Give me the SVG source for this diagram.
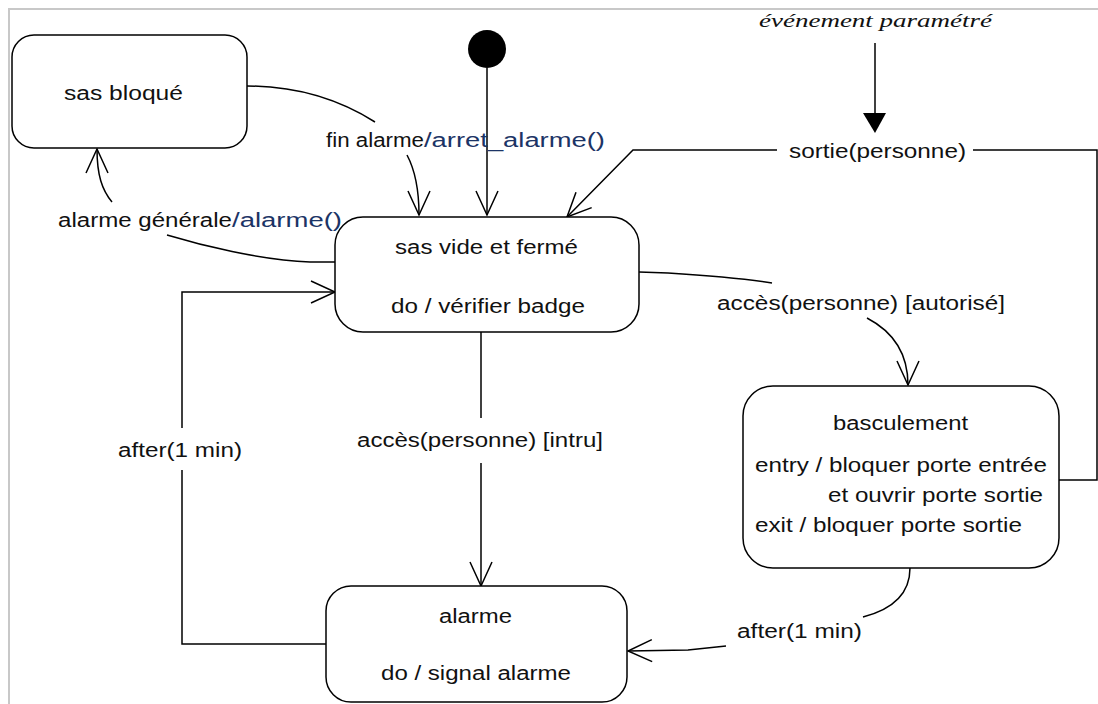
<svg xmlns="http://www.w3.org/2000/svg" width="1098" height="704" viewBox="0 0 1098 704">
<style>
.bg{fill:#ffffff}
.frame{fill:none;stroke:#c8c8c8;stroke-width:2}
.state{fill:#ffffff;stroke:#000000;stroke-width:1.5}
.edge{fill:none;stroke:#000000;stroke-width:1.5}
.t{font-family:"Liberation Sans",Arial,sans-serif;font-size:20px;fill:#111111}
.b{font-family:"Liberation Sans",Arial,sans-serif;font-size:20px;fill:#1c3466}
.it{font-family:"Liberation Serif","Times New Roman",serif;font-style:italic;font-size:18px;fill:#111111}
</style>
<defs>
<marker id="open" markerUnits="userSpaceOnUse" viewBox="-26 -14 30 28" markerWidth="30" markerHeight="28" refX="0" refY="0" orient="auto">
<path d="M-24,-11 L0,0 L-24,11" fill="none" stroke="#000000" stroke-width="1.5"/>
</marker>
</defs>
<rect class="bg" x="0" y="0" width="1098" height="704"/>
<path class="frame" d="M9,704 L9,9 L1098,9"/>

<g id="connectors">
<!-- initial -->
<path class="edge" d="M487,68 L487,215" marker-end="url(#open)"/>
<!-- sas bloque -> sas vide (fin alarme) -->
<path class="edge" d="M247,86 C300,86 340,100 375,122"/>
<path class="edge" d="M407,155 C415,170 419,190 419,215" marker-end="url(#open)"/>
<!-- sas vide -> sas bloque (alarme generale) -->
<path class="edge" d="M335,262 L310,262 C260,260 200,245 167,235"/>
<path class="edge" d="M112,202 C102,190 97,175 97,149" marker-end="url(#open)"/>
<!-- basculement -> sas vide (sortie) -->
<path class="edge" d="M973,150 L1097,150 L1097,480 L1059,480"/>
<path class="edge" d="M777,150 L633,150 L567,217" marker-end="url(#open)"/>
<!-- evenement parametre annotation -->
<path class="edge" d="M875,43 L875,114"/>
<polygon points="863,113 886,113 875,133" fill="#000000"/>
<!-- sas vide -> basculement -->
<path class="edge" d="M639,272 L668,273 C700,275 740,278 772,283"/>
<path class="edge" d="M867,318 C890,330 908,350 908,385" marker-end="url(#open)"/>
<!-- sas vide -> alarme -->
<path class="edge" d="M481,332 L481,418"/>
<path class="edge" d="M481,463 L481,586" marker-end="url(#open)"/>
<!-- alarme -> sas vide -->
<path class="edge" d="M326,644 L182,644 L182,470"/>
<path class="edge" d="M182,428 L182,292 L335,292" marker-end="url(#open)"/>
<!-- basculement -> alarme -->
<path class="edge" d="M910,568 C910,595 890,610 863,617"/>
<path class="edge" d="M726,646 L688,650 L628,651" marker-end="url(#open)"/>
</g>

<g id="labels">
<text class="t" x="326" y="147" textLength="98" lengthAdjust="spacingAndGlyphs">fin alarme</text>
<text class="b" x="424" y="147" textLength="181" lengthAdjust="spacingAndGlyphs">/arret_alarme()</text>
<text class="t" x="58" y="227" textLength="174" lengthAdjust="spacingAndGlyphs">alarme générale</text>
<text class="b" x="232" y="227" textLength="110" lengthAdjust="spacingAndGlyphs">/alarme()</text>
<text class="t" x="789" y="158" textLength="177" lengthAdjust="spacingAndGlyphs">sortie(personne)</text>
<text class="it" x="759" y="27" textLength="233" lengthAdjust="spacingAndGlyphs">événement paramétré</text>
<text class="t" x="717" y="310" textLength="288" lengthAdjust="spacingAndGlyphs">accès(personne) [autorisé]</text>
<text class="t" x="357" y="447" textLength="246" lengthAdjust="spacingAndGlyphs">accès(personne) [intru]</text>
<text class="t" x="118" y="457" textLength="124" lengthAdjust="spacingAndGlyphs">after(1 min)</text>
<text class="t" x="737" y="638" textLength="125" lengthAdjust="spacingAndGlyphs">after(1 min)</text>
</g>

<g id="initial">
<circle cx="487" cy="49" r="19" fill="#000000"/>
</g>

<g id="sas-bloque">
<rect class="state" x="12" y="35" width="235" height="113" rx="22" ry="22"/>
<text class="t" x="64" y="100" textLength="119" lengthAdjust="spacingAndGlyphs">sas bloqué</text>
</g>

<g id="sas-vide">
<rect class="state" x="335" y="217" width="304" height="115" rx="28" ry="28"/>
<text class="t" x="395" y="254" textLength="183" lengthAdjust="spacingAndGlyphs">sas vide et fermé</text>
<text class="t" x="391" y="313" textLength="194" lengthAdjust="spacingAndGlyphs">do / vérifier badge</text>
</g>

<g id="basculement">
<rect class="state" x="743" y="386" width="316" height="182" rx="30" ry="30"/>
<text class="t" x="833" y="430" textLength="135" lengthAdjust="spacingAndGlyphs">basculement</text>
<text class="t" x="755" y="472" textLength="292" lengthAdjust="spacingAndGlyphs">entry / bloquer porte entrée</text>
<text class="t" x="828" y="502" textLength="215" lengthAdjust="spacingAndGlyphs">et ouvrir porte sortie</text>
<text class="t" x="755" y="532" textLength="267" lengthAdjust="spacingAndGlyphs">exit / bloquer porte sortie</text>
</g>

<g id="alarme">
<rect class="state" x="326" y="586" width="301" height="116" rx="25" ry="25"/>
<text class="t" x="439" y="623" textLength="73" lengthAdjust="spacingAndGlyphs">alarme</text>
<text class="t" x="381" y="680" textLength="190" lengthAdjust="spacingAndGlyphs">do / signal alarme</text>
</g>
</svg>
